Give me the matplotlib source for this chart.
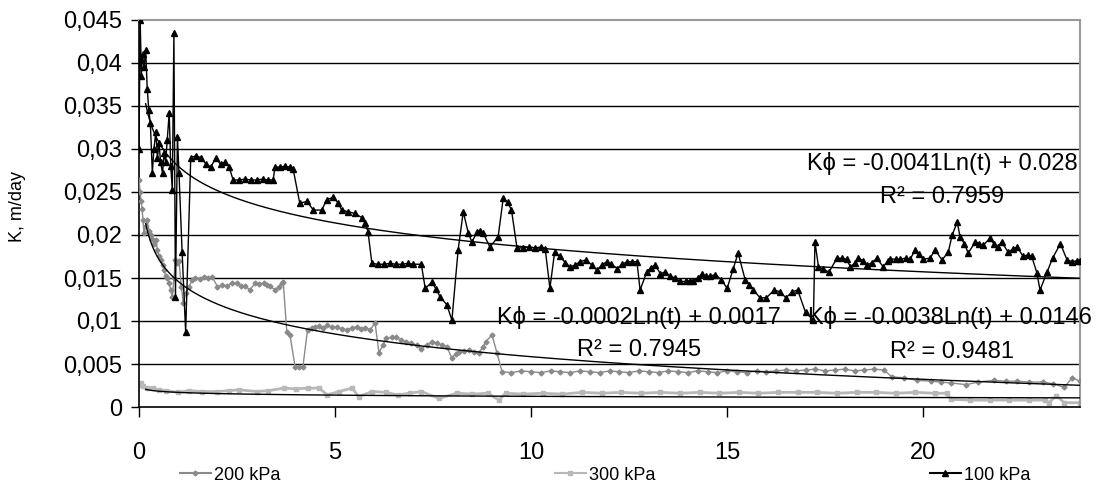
import matplotlib
matplotlib.use("Agg")
import matplotlib.pyplot as plt
from matplotlib.lines import Line2D
import numpy as np

plt.rcParams['font.family'] = ['Liberation Sans', 'DejaVu Sans']

# time, h  /  filtration coefficient, m/day
t100 = [0.0, 0.03, 0.06, 0.09, 0.13, 0.17, 0.21, 0.25, 0.29, 0.34, 0.38, 0.43, 0.47, 0.51, 0.55,
        0.60, 0.64, 0.68, 0.72, 0.77, 0.81, 0.85, 0.89, 0.93, 0.98, 1.02, 1.10, 1.19, 1.32, 1.45,
        1.58, 1.70, 1.83, 1.96, 2.08, 2.20, 2.30, 2.40, 2.55, 2.70, 2.85, 3.00, 3.15, 3.30, 3.42,
        3.47, 3.60, 3.72, 3.85, 3.93, 4.10, 4.28, 4.45, 4.66, 4.79, 4.96, 5.08, 5.17, 5.34, 5.51,
        5.69, 5.77, 5.84, 5.94, 6.10, 6.25, 6.40, 6.55, 6.70, 6.85, 7.00, 7.20, 7.30, 7.47, 7.58,
        7.68, 7.85, 7.98, 8.14, 8.27, 8.40, 8.49, 8.62, 8.70, 8.78, 8.95, 9.16, 9.29, 9.40, 9.50,
        9.64, 9.80, 9.95, 10.10, 10.25, 10.36, 10.48, 10.60, 10.74, 10.87, 10.99, 11.12, 11.25, 11.40, 11.55,
        11.68, 11.80, 11.93, 12.05, 12.20, 12.32, 12.45, 12.58, 12.70, 12.78, 12.95, 13.05, 13.16, 13.30, 13.42,
        13.55, 13.68, 13.80, 13.95, 14.05, 14.13, 14.25, 14.36, 14.46, 14.56, 14.70, 14.85, 15.00, 15.15, 15.28,
        15.46, 15.57, 15.67, 15.84, 16.00, 16.20, 16.35, 16.50, 16.66, 16.80, 17.00, 17.20, 17.24, 17.33, 17.45,
        17.60, 17.80, 17.92, 18.05, 18.14, 18.25, 18.35, 18.47, 18.57, 18.70, 18.82, 18.98, 19.10, 19.16, 19.30,
        19.42, 19.55, 19.67, 19.80, 19.90, 20.00, 20.18, 20.30, 20.48, 20.64, 20.74, 20.87, 20.94, 21.05, 21.15,
        21.33, 21.43, 21.53, 21.70, 21.80, 21.90, 22.00, 22.17, 22.30, 22.40, 22.55, 22.67, 22.77, 22.90, 22.98,
        23.16, 23.30, 23.50, 23.67, 23.80, 23.92, 24.00]
k100 = [0.0300, 0.0450, 0.0385, 0.0410, 0.0395, 0.0415, 0.0370, 0.0345, 0.0330, 0.0272, 0.0300, 0.0320, 0.0290, 0.0307, 0.0285,
        0.0272, 0.0295, 0.0285, 0.0310, 0.0342, 0.0280, 0.0252, 0.0435, 0.0128, 0.0314, 0.0272, 0.0180, 0.0087, 0.0290, 0.0292,
        0.0290, 0.0283, 0.0279, 0.0290, 0.0282, 0.0285, 0.0279, 0.0264, 0.0264, 0.0265, 0.0264, 0.0264, 0.0265, 0.0264, 0.0264,
        0.0279, 0.0279, 0.0280, 0.0279, 0.0277, 0.0237, 0.0239, 0.0229, 0.0229, 0.0241, 0.0244, 0.0237, 0.0229, 0.0227, 0.0225,
        0.0220, 0.0214, 0.0204, 0.0167, 0.0166, 0.0166, 0.0167, 0.0166, 0.0166, 0.0167, 0.0166, 0.0166, 0.0138, 0.0145, 0.0137,
        0.0128, 0.0119, 0.0101, 0.0183, 0.0227, 0.0202, 0.0192, 0.0203, 0.0205, 0.0202, 0.0186, 0.0198, 0.0243, 0.0238, 0.0229,
        0.0185, 0.0185, 0.0186, 0.0185, 0.0186, 0.0184, 0.0138, 0.0180, 0.0175, 0.0168, 0.0163, 0.0165, 0.0169, 0.0171, 0.0165,
        0.0159, 0.0165, 0.0169, 0.0166, 0.0161, 0.0166, 0.0169, 0.0169, 0.0169, 0.0136, 0.0157, 0.0162, 0.0165, 0.0155, 0.0157,
        0.0152, 0.0150, 0.0146, 0.0146, 0.0147, 0.0146, 0.0150, 0.0155, 0.0152, 0.0152, 0.0154, 0.0148, 0.0138, 0.0160, 0.0179,
        0.0148, 0.0142, 0.0136, 0.0127, 0.0127, 0.0136, 0.0134, 0.0127, 0.0134, 0.0136, 0.0110, 0.0101, 0.0192, 0.0163, 0.0160,
        0.0157, 0.0173, 0.0173, 0.0172, 0.0163, 0.0167, 0.0173, 0.0170, 0.0165, 0.0168, 0.0173, 0.0163, 0.0170, 0.0172, 0.0172,
        0.0172, 0.0173, 0.0172, 0.0183, 0.0178, 0.0172, 0.0173, 0.0183, 0.0171, 0.0180, 0.0200, 0.0215, 0.0198, 0.0190, 0.0179,
        0.0192, 0.0190, 0.0188, 0.0196, 0.0190, 0.0186, 0.0192, 0.0180, 0.0184, 0.0186, 0.0175, 0.0177, 0.0175, 0.0156, 0.0136,
        0.0157, 0.0173, 0.0190, 0.0171, 0.0169, 0.0170, 0.0170]

t200 = [0.00, 0.03, 0.05, 0.08, 0.10, 0.13, 0.17, 0.21, 0.25, 0.30, 0.34, 0.38, 0.43, 0.47, 0.51,
        0.55, 0.60, 0.64, 0.68, 0.72, 0.77, 0.81, 0.85, 0.89, 0.93, 0.98, 1.02, 1.08, 1.13, 1.20,
        1.28, 1.36, 1.43, 1.55, 1.65, 1.76, 1.87, 2.00, 2.12, 2.24, 2.37, 2.50, 2.60, 2.70, 2.83,
        2.96, 3.07, 3.18, 3.26, 3.34, 3.47, 3.56, 3.64, 3.68, 3.77, 3.85, 3.98, 4.08, 4.18, 4.30,
        4.40, 4.48, 4.60, 4.70, 4.79, 4.92, 5.05, 5.18, 5.30, 5.42, 5.55, 5.66, 5.77, 5.90, 6.02,
        6.12, 6.22, 6.30, 6.45, 6.56, 6.68, 6.80, 6.95, 7.08, 7.20, 7.35, 7.47, 7.60, 7.73, 7.85,
        7.98, 8.08, 8.16, 8.30, 8.42, 8.55, 8.67, 8.77, 8.85, 9.00, 9.13, 9.26, 9.50, 9.75, 10.00,
        10.25, 10.50, 10.75, 11.00, 11.25, 11.50, 11.75, 12.00, 12.25, 12.50, 12.75, 13.00, 13.25, 13.50, 13.75,
        14.00, 14.25, 14.50, 14.75, 15.00, 15.25, 15.50, 15.75, 16.00, 16.25, 16.50, 16.75, 17.00, 17.25, 17.50,
        17.75, 18.00, 18.25, 18.50, 18.75, 19.00, 19.20, 19.50, 19.85, 20.20, 20.45, 20.70, 21.10, 21.40, 21.80,
        22.10, 22.40, 22.70, 23.06, 23.30, 23.60, 23.80, 24.00]
k200 = [0.0264, 0.0250, 0.0240, 0.0230, 0.0218, 0.0202, 0.0210, 0.0217, 0.0205, 0.0200, 0.0195, 0.0190, 0.0194, 0.0183, 0.0175,
        0.0171, 0.0165, 0.0159, 0.0152, 0.0150, 0.0144, 0.0136, 0.0128, 0.0150, 0.0171, 0.0167, 0.0170, 0.0140, 0.0121, 0.0133,
        0.0140, 0.0148, 0.0150, 0.0149, 0.0151, 0.0150, 0.0151, 0.0140, 0.0142, 0.0141, 0.0144, 0.0144, 0.0141, 0.0141, 0.0136,
        0.0144, 0.0143, 0.0144, 0.0142, 0.0141, 0.0136, 0.0140, 0.0144, 0.0145, 0.0087, 0.0084, 0.0047, 0.0046, 0.0047, 0.0090,
        0.0092, 0.0093, 0.0094, 0.0092, 0.0095, 0.0093, 0.0093, 0.0091, 0.0090, 0.0092, 0.0093, 0.0091, 0.0092, 0.0090, 0.0098,
        0.0063, 0.0072, 0.0080, 0.0081, 0.0081, 0.0078, 0.0076, 0.0074, 0.0072, 0.0068, 0.0072, 0.0076, 0.0074, 0.0072, 0.0070,
        0.0057, 0.0062, 0.0064, 0.0065, 0.0066, 0.0064, 0.0063, 0.0070, 0.0076, 0.0084, 0.0063, 0.0041, 0.0040, 0.0042, 0.0041,
        0.0040, 0.0042, 0.0041, 0.0040, 0.0042, 0.0041, 0.0040, 0.0042, 0.0041, 0.0040, 0.0042, 0.0041, 0.0040, 0.0042, 0.0041,
        0.0040, 0.0042, 0.0041, 0.0040, 0.0042, 0.0041, 0.0040, 0.0042, 0.0041, 0.0042, 0.0043, 0.0042, 0.0043, 0.0044, 0.0042,
        0.0043, 0.0044, 0.0042, 0.0043, 0.0044, 0.0043, 0.0035, 0.0034, 0.0031, 0.0030, 0.0029, 0.0028, 0.0026, 0.0029, 0.0031,
        0.0030, 0.0030, 0.0029, 0.0029, 0.0027, 0.0023, 0.0034, 0.0030]

t300 = [0.00, 0.05, 0.10, 0.20, 0.35, 0.50, 0.70, 1.00, 1.27, 1.60, 2.00, 2.30, 2.55, 3.00, 3.30,
        3.70, 4.00, 4.30, 4.60, 4.80, 5.10, 5.44, 5.60, 5.95, 6.30, 6.60, 6.90, 7.20, 7.65, 8.10,
        8.50, 8.90, 9.18, 9.35, 9.80, 10.30, 10.80, 11.30, 11.80, 12.30, 12.80, 13.30, 13.80, 14.30, 14.80,
        15.30, 15.80, 16.30, 16.80, 17.30, 17.80, 18.30, 18.80, 19.30, 19.80, 20.30, 20.60, 20.70, 21.20, 21.70,
        22.20, 22.70, 23.10, 23.20, 23.40, 23.60, 24.00]
k300 = [0.0026, 0.0028, 0.0024, 0.0022, 0.0022, 0.0020, 0.0019, 0.0017, 0.0019, 0.0018, 0.0018, 0.0019, 0.0020, 0.0018, 0.0019,
        0.0022, 0.0021, 0.0022, 0.0022, 0.0014, 0.0018, 0.0022, 0.0012, 0.0018, 0.0017, 0.0014, 0.0016, 0.0018, 0.0010, 0.0016,
        0.0015, 0.0016, 0.0008, 0.0016, 0.0015, 0.0016, 0.0015, 0.0017, 0.0016, 0.0017, 0.0016, 0.0017, 0.0016, 0.0017, 0.0016,
        0.0017, 0.0016, 0.0017, 0.0017, 0.0017, 0.0016, 0.0017, 0.0017, 0.0016, 0.0017, 0.0016, 0.0016, 0.0009, 0.0008, 0.0008,
        0.0008, 0.0008, 0.0008, 0.0005, 0.0013, 0.0005, 0.0005]

# logarithmic trend lines K = a*ln(t) + b
fit100 = (-0.0041, 0.028, 0.7959)
fit200 = (-0.0038, 0.0146, 0.9481)
fit300 = (-0.0002, 0.0017, 0.7945)

yticks = [0, 0.005, 0.01, 0.015, 0.02, 0.025, 0.03, 0.035, 0.04, 0.045]
ylabels = ['0', '0,005', '0,01', '0,015', '0,02', '0,025', '0,03', '0,035', '0,04', '0,045']
xticks = [0, 5, 10, 15, 20]

c200 = '#8a8a8a'
c300 = '#b8b8b8'

fig = plt.figure(figsize=(11.05, 4.95), dpi=100)
ax = fig.add_axes([139 / 1105, 88 / 495, 941 / 1105, 387 / 495])

for y in yticks[1:-1]:
    ax.axhline(y, color='black', lw=1.0, zorder=1)

ax.plot(t200, k200, color=c200, lw=1.0, marker='D', ms=2.5, zorder=3)
ax.plot(t300, k300, color=c300, lw=2.0, marker='s', ms=3, zorder=2)
ax.plot(t100, k100, color='black', lw=1.0, marker='^', ms=4.5, zorder=4)

tt = np.linspace(0.17, 24, 400)
for a, b, r2 in (fit100, fit200, fit300):
    ax.plot(tt, a * np.log(tt) + b, color='black', lw=1.0, zorder=5)

fs_eq = 17
ax.text(17.04, 0.02837, 'Kϕ = -0.0041Ln(t) + 0.028', fontsize=fs_eq, va='center', ha='left', zorder=6)
ax.text(18.9, 0.02442, 'R² = 0.7959', fontsize=fs_eq, va='center', ha='left', zorder=6)
ax.text(9.13, 0.01035, 'Kϕ = -0.0002Ln(t) + 0.0017', fontsize=fs_eq, va='center', ha='left', zorder=6)
ax.text(11.17, 0.00663, 'R² = 0.7945', fontsize=fs_eq, va='center', ha='left', zorder=6)
ax.text(17.07, 0.01035, 'Kϕ = -0.0038Ln(t) + 0.0146', fontsize=fs_eq, va='center', ha='left',
        zorder=6, clip_on=False)
ax.text(19.16, 0.0064, 'R² = 0.9481', fontsize=fs_eq, va='center', ha='left', zorder=6)

ax.set_xlim(0, 24)
ax.set_ylim(0, 0.045)
ax.set_xticks(xticks)
ax.set_xticklabels([str(x) for x in xticks], fontsize=17)
ax.set_yticks(yticks)
ax.set_yticklabels(ylabels, fontsize=17)
ax.tick_params(axis='x', direction='out', length=7, width=1, pad=18)
ax.tick_params(axis='y', direction='out', length=6, width=1, pad=6)

for side in ('top', 'right'):
    ax.spines[side].set_color('#9a9a9a')
    ax.spines[side].set_linewidth(1.5)
for side in ('left', 'bottom'):
    ax.spines[side].set_color('black')
    ax.spines[side].set_linewidth(1.2)

fig.text(18 / 1105, 1 - 207 / 495, 'K, m/day', rotation=90, ha='center', va='center', fontsize=13)

# legend entries spread along the bottom
entries = [
    ('200 kPa', c200, 'D', 2.5, 180),
    ('300 kPa', c300, 's', 3, 555),
    ('100 kPa', 'black', '^', 4.5, 930),
]
for label, color, mk, ms, xpix in entries:
    h = Line2D([], [], color=color, marker=mk, ms=ms, lw=1.5)
    fig.legend([h], [label], loc='center left', bbox_to_anchor=(xpix / 1105, 20 / 495),
               frameon=False, fontsize=13, handlelength=1.7, handletextpad=0.2,
               borderpad=0, borderaxespad=0)

fig.savefig('out.png', dpi=100)
